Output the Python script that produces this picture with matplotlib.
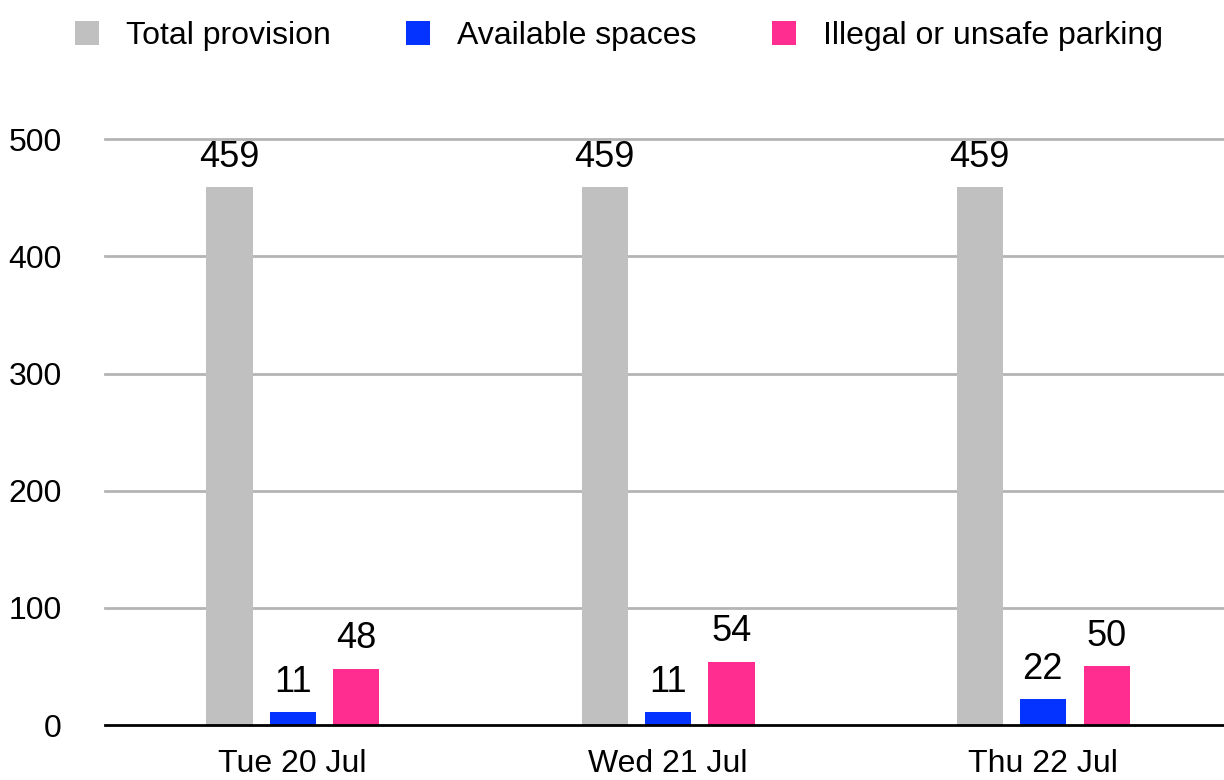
import matplotlib.pyplot as plt
import numpy as np

plt.rcParams['font.family'] = ['Liberation Sans', 'DejaVu Sans']

days = ['Tue 20 Jul', 'Wed 21 Jul', 'Thu 22 Jul']
total_provision = [459, 459, 459]
available_spaces = [11, 11, 22]
illegal_parking = [48, 54, 50]

series = [
    ('Total provision', total_provision, '#c0c0c0'),
    ('Available spaces', available_spaces, '#0433ff'),
    ('Illegal or unsafe parking', illegal_parking, '#ff2d8f'),
]

fig = plt.figure(figsize=(12.24, 7.8), dpi=100)
ax = fig.add_axes([0.0858, 0.0705, 0.9142, 0.7525])

x = np.arange(len(days))
width = 0.123
offsets = [-0.168, 0.0, 0.17]

for (name, vals, color), off in zip(series, offsets):
    bars = ax.bar(x + off, vals, width, color=color, label=name, zorder=3)
    ax.bar_label(bars, padding=9, fontsize=26)

ax.set_xlim(-0.5, 2.483)
ax.set_ylim(0, 501)
ax.set_yticks([0, 100, 200, 300, 400, 500])
ax.set_xticks(x)
ax.set_xticklabels(days)
ax.tick_params(axis='both', length=0, labelsize=23)
ax.tick_params(axis='y', pad=31)
ax.tick_params(axis='x', pad=17)

for v in [100, 200, 300, 400, 500]:
    ax.axhline(v, color='#b4b4b4', linewidth=2, zorder=1, clip_on=False)
ax.axhline(0, color='black', linewidth=2, zorder=4, clip_on=False)

for s in ax.spines.values():
    s.set_visible(False)

fig.legend(loc='upper center', bbox_to_anchor=(0.5057, 1.01), ncol=3, frameon=False,
           fontsize=23, handlelength=0.75, handleheight=0.75, handletextpad=0.85,
           columnspacing=2.35)

fig.savefig('out.png', dpi=100)
